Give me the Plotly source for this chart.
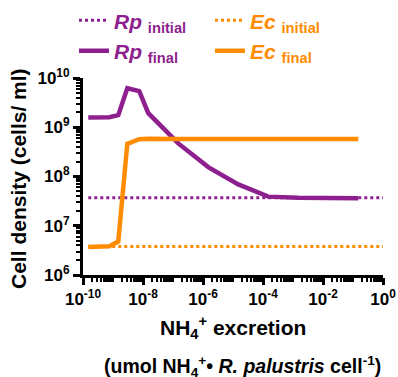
import plotly.graph_objects as go

# ---- data ----
excretion = [1.5e-10, 7.5e-10, 1.5e-9, 3e-9, 7.5e-9, 1.5e-8, 1.5e-7, 1.5e-6,
             1.5e-5, 1.5e-4, 1.5e-3, 1.5e-2, 1.5e-1]
rp_final = [1.58e9, 1.6e9, 1.76e9, 6.2e9, 5.4e9, 1.93e9, 4.7e8, 1.55e8,
            6.9e7, 3.9e7, 3.7e7, 3.6e7, 3.6e7]
ec_final = [3.7e6, 3.85e6, 4.8e6, 4.6e8, 5.7e8, 5.85e8, 5.8e8, 5.75e8,
            5.75e8, 5.75e8, 5.75e8, 5.75e8, 5.75e8]
initial_x = [1.5e-10, 1.0]
rp_initial = [3.7e7, 3.7e7]
ec_initial = [3.8e6, 3.8e6]

x_tickvals = [1e-10, 1e-8, 1e-6, 1e-4, 1e-2, 1e0]
x_ticktext = ["10<sup>-10</sup>", "10<sup>-8</sup>", "10<sup>-6</sup>",
              "10<sup>-4</sup>", "10<sup>-2</sup>", "10<sup>0</sup>"]
y_tickvals = [1e6, 1e7, 1e8, 1e9, 1e10]
y_ticktext = ["10<sup>6</sup>", "10<sup>7</sup>", "10<sup>8</sup>",
              "10<sup>9</sup>", "10<sup>10</sup>"]

PURPLE = "#8E1F8E"
ORANGE = "#FF8C00"
FONT = "Arial, Liberation Sans, sans-serif"


def lname(sp, sub, color):
    return (f"<span style='color:{color}'><b><i>{sp}</i></b> "
            f"<sub><b>{sub}</b></sub></span>")


fig = go.Figure()
fig.add_trace(go.Scatter(x=initial_x, y=rp_initial, mode="lines",
                         line=dict(color=PURPLE, width=3, dash="3px,3px"),
                         name=lname("Rp", "initial", PURPLE)))
fig.add_trace(go.Scatter(x=initial_x, y=ec_initial, mode="lines",
                         line=dict(color=ORANGE, width=3, dash="3px,3px"),
                         name=lname("Ec", "initial", ORANGE)))
fig.add_trace(go.Scatter(x=excretion, y=rp_final, mode="lines",
                         line=dict(color=PURPLE, width=4.5),
                         name=lname("Rp", "final", PURPLE)))
fig.add_trace(go.Scatter(x=excretion, y=ec_final, mode="lines",
                         line=dict(color=ORANGE, width=4.5),
                         name=lname("Ec", "final", ORANGE)))

axis_common = dict(
    showline=True, linecolor="black", linewidth=3,
    ticks="outside", ticklen=7, tickwidth=2.5, tickcolor="black",
    showgrid=False, zeroline=False, automargin=False,
    tickfont=dict(family=FONT, size=17, color="black", weight="bold"),
)

fig.update_xaxes(type="log", range=[-10, 0], tickmode="array",
                 tickvals=x_tickvals, ticktext=x_ticktext,
                 minor=dict(ticks="outside", ticklen=4, tickwidth=1.5,
                            tickcolor="black", dtick="D1", showgrid=False),
                 **axis_common)
fig.update_yaxes(type="log", range=[6, 10], tickmode="array",
                 tickvals=y_tickvals, ticktext=y_ticktext,
                 minor=dict(ticks="outside", ticklen=4, tickwidth=1.5,
                            tickcolor="black", dtick="D1", showgrid=False),
                 **axis_common)

# axis titles
fig.add_annotation(text="<b>Cell density (cells/ ml)</b>",
                   xref="paper", yref="paper", x=-0.215, y=0.49,
                   textangle=-90, showarrow=False,
                   xanchor="center", yanchor="middle",
                   font=dict(family=FONT, size=21, color="black"))
fig.add_annotation(text="<b>NH<sub>4</sub><sup>+</sup> excretion</b>",
                   xref="paper", yref="paper", x=0.5, y=-0.269,
                   showarrow=False, xanchor="center", yanchor="middle",
                   font=dict(family=FONT, size=21, color="black"))
fig.add_annotation(text="<b>(umol NH<sub>4</sub><sup>+</sup>• <i>R. palustris</i> cell<sup>-1</sup>)</b>",
                   xref="paper", yref="paper", x=0.53, y=-0.465,
                   showarrow=False, xanchor="center", yanchor="middle",
                   font=dict(family=FONT, size=19.5, color="black"))

fig.update_layout(
    width=398, height=377,
    margin=dict(l=83, r=15, t=78, b=102, autoexpand=False),
    paper_bgcolor="white", plot_bgcolor="white",
    font=dict(family=FONT, color="black"),
    showlegend=True,
    legend=dict(orientation="h", x=-0.03, xanchor="left", y=1.395, yanchor="top",
                entrywidth=91, entrywidthmode="pixels", itemwidth=30,
                font=dict(family=FONT, size=21), bgcolor="rgba(0,0,0,0)",
                tracegroupgap=0),
)

fig.write_html("out.html",
               config={"displayModeBar": False},
               post_script="document.body.style.margin='0';"
                           "document.body.style.overflow='hidden';")
